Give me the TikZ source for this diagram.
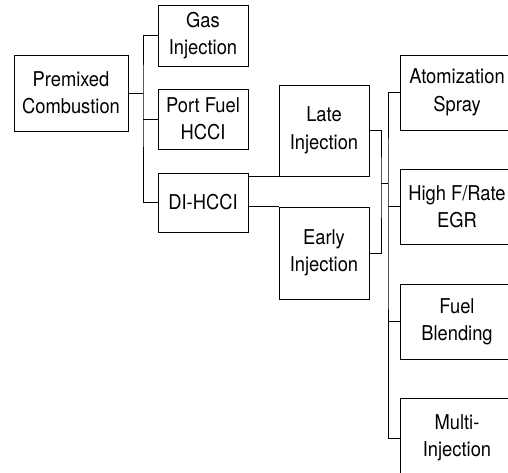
\documentclass[tikz,border=0pt]{standalone}
\usepackage{fontspec}
\setmainfont[FakeStretch=0.9]{TeX Gyre Heros}
\begin{document}
\begin{tikzpicture}[x=0.025cm, y=-0.025cm, line width=0.6pt,
    every node/.style={font=\fontsize{14.5}{19.5}\selectfont, align=center, inner sep=0pt},
    blk/.style={draw, minimum width=2.25cm, minimum height=1.5cm},
    wide/.style={draw, minimum width=2.85cm, minimum height=1.875cm}]
    \useasboundingbox (0,0) rectangle (508,473);
    \clip (0,0) rectangle (508,473);

    \node[wide, minimum height=1.9cm] (pc) at (71,93) {Premixed\\Combustion};
    \node[blk, minimum height=1.525cm] (gas) at (203,35.5) {Gas\\Injection};
    \node[blk] (pf) at (203,119) {Port Fuel\\HCCI};
    \node[blk, minimum height=1.475cm] (di) at (203,202.5) {DI-HCCI};
    \node[blk, minimum height=2.275cm] (late) at (324,130.5) {Late\\Injection};
    \node[blk, minimum height=2.3cm] (early) at (324,253) {Early\\Injection};
    \node[wide] (atom) at (457,92.5) {Atomization\\Spray};
    \node[wide] (high) at (457,206.5) {High F/Rate\\EGR};
    \node[wide] (fuel) at (457,321.5) {Fuel\\Blending};
    \node[wide, minimum height=2cm] (multi) at (457,438) {Multi-\\Injection};

    \coordinate (j1) at (143,93);
    \coordinate (j2) at (381,183);
    \coordinate (j3) at (388,183);

    % first level
    \draw (pc.east) -- (j1);
    \draw (gas.west) -| (j1) |- (di.west);
    \draw (pf.west) -- (pf.west -| j1);

    % DI-HCCI to late / early
    \draw (di.east |- late.south west) -- (late.south west);
    \draw (di.east |- early.north west) -- (early.north west);

    % right side
    \draw (late.east) -| (j2) |- (early.east);
    \draw (j2) -- (j3);
    \draw (atom.west) -| (j3) |- (multi.west);
    \draw (high.west) -- (high.west -| j3);
    \draw (fuel.west) -- (fuel.west -| j3);
\end{tikzpicture}
\end{document}
